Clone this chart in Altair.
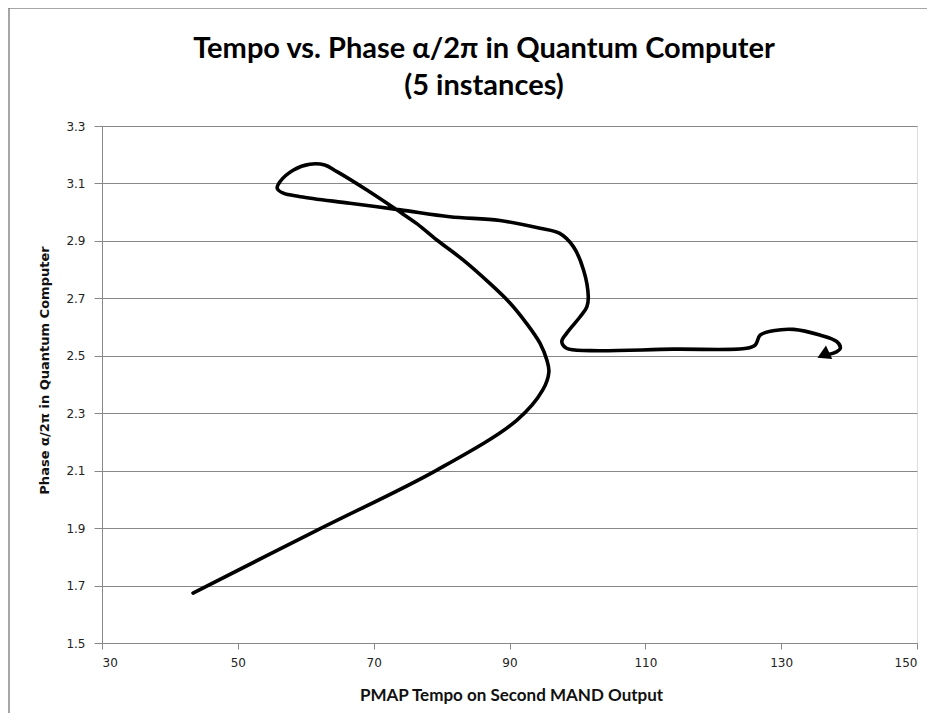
import altair as alt
import pandas as pd

# Path of the curve, in drawing order
tempo = [43.4, 61.7, 79.3, 91.1, 94.9, 95.8, 95.5, 94.5, 92.5, 90.1,
         87.1, 83.2, 79.3, 76.3, 73.4, 69.0, 64.6, 62.8, 60.6, 58.2,
         56.2, 55.8, 56.7, 59.2, 66.5, 73.9, 81.2, 88.6, 94.5, 97.4,
         99.4, 100.9, 101.6, 101.4, 100.4, 98.4, 97.7, 98.4, 101.9, 114.1,
         124.9, 126.2, 126.9, 128.8, 131.8, 135.7, 138.2, 138.7, 137.7, 136.2]
phase = [1.674, 1.893, 2.102, 2.276, 2.381, 2.444, 2.485, 2.543, 2.613, 2.683,
         2.752, 2.833, 2.903, 2.961, 3.008, 3.077, 3.141, 3.164, 3.167, 3.147,
         3.106, 3.083, 3.066, 3.054, 3.031, 3.008, 2.984, 2.971, 2.944, 2.926,
         2.880, 2.799, 2.706, 2.671, 2.636, 2.578, 2.549, 2.526, 2.518, 2.523,
         2.526, 2.538, 2.572, 2.587, 2.592, 2.572, 2.549, 2.526, 2.509, 2.503]

x_ticks = [30, 50, 70, 90, 110, 130, 150]
y_ticks = [1.5, 1.7, 1.9, 2.1, 2.3, 2.5, 2.7, 2.9, 3.1, 3.3]

title_line1 = "Tempo vs. Phase \u03b1/2\u03c0 in Quantum Computer"
title_line2 = "(5 instances)"
x_title = "PMAP Tempo on Second MAND Output"
y_title = "Phase \u03b1/2\u03c0 in Quantum Computer"

df = pd.DataFrame({"tempo": tempo, "phase": phase, "i": list(range(len(tempo)))})
end = df.tail(1)
t1 = pd.DataFrame({"t": [title_line1]})
t2 = pd.DataFrame({"t": [title_line2]})

GRAY = "#888888"

xs = alt.Scale(domain=[30, 150], nice=False, zero=False)
ys = alt.Scale(domain=[1.5, 3.3], nice=False, zero=False)

x_enc = alt.X("tempo:Q", scale=xs, axis=alt.Axis(
    values=x_ticks, grid=False, domainColor=GRAY, tickColor=GRAY, tickSize=6,
    labelFont="DejaVu Sans", labelFontSize=12, labelColor="#222222", labelPadding=8,
    title=x_title, titleFont="Lato", titleFontSize=17, titleFontWeight="bold",
    titleColor="#111111", titleX=409, titleY=52, titleBaseline="middle", titleAlign="center"))
y_enc = alt.Y("phase:Q", scale=ys, axis=alt.Axis(
    values=y_ticks, format=".1f", grid=True, gridColor=GRAY, gridWidth=1,
    domainColor=GRAY, tickColor=GRAY, tickSize=8,
    labelFont="DejaVu Sans", labelFontSize=12, labelColor="#222222", labelPadding=9,
    title=y_title, titleFont="DejaVu Sans", titleFontSize=13, titleFontWeight="bold",
    titleColor="#111111", titleX=-58, titleY=244, titleAngle=270,
    titleBaseline="middle", titleAlign="center"))

line = alt.Chart(df).mark_line(color="black", strokeWidth=3.6, interpolate="catmull-rom",
                               strokeCap="round", strokeJoin="round").encode(
    x=x_enc, y=y_enc, order="i:Q")

arrow = alt.Chart(end).mark_point(shape="triangle-left", filled=True, color="black",
                                  size=220, angle=335, opacity=1).encode(
    x=alt.X("tempo:Q", scale=xs), y=alt.Y("phase:Q", scale=ys))

border_top = alt.Chart(end).mark_rule(color=GRAY, strokeWidth=1.5).encode(
    x=alt.value(-94), x2=alt.value(825), y=alt.value(-118))
border_left = alt.Chart(end).mark_rule(color=GRAY, strokeWidth=1.5).encode(
    x=alt.value(-93), y=alt.value(-118), y2=alt.value(587))

title_a = alt.Chart(t1).mark_text(font="Lato", fontSize=29, fontWeight="bold", color="black",
                                  align="center", baseline="middle").encode(
    text="t:N", x=alt.value(382), y=alt.value(-77))
title_b = alt.Chart(t2).mark_text(font="Lato", fontSize=29, fontWeight="bold", color="black",
                                  align="center", baseline="middle").encode(
    text="t:N", x=alt.value(382), y=alt.value(-40))

chart = alt.layer(border_top, border_left, title_a, title_b, line, arrow).properties(
    width=815, height=517,
    autosize=alt.AutoSizeParams(type="none"),
    padding={"left": 94, "top": 118, "right": 10, "bottom": 70},
).configure_view(stroke=None).configure(background="white")

chart.save("out.html", embed_options={"renderer": "svg", "actions": False})
